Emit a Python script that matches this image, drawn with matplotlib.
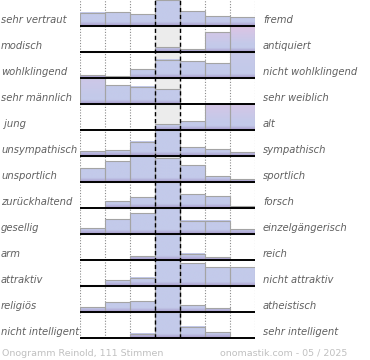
import numpy as np
import matplotlib
matplotlib.use("Agg")
import matplotlib.pyplot as plt
import matplotlib.transforms as mtransforms

# word pairs (left / right)
left_labels = ["sehr vertraut", "modisch", "wohlklingend", "sehr männlich", " jung",
               "unsympathisch", "unsportlich", "zurückhaltend", "gesellig", "arm",
               "attraktiv", "religiös", "nicht intelligent"]
right_labels = ["fremd", "antiquiert", "nicht wohlklingend", "sehr weiblich", "alt",
                "sympathisch", "sportlich", "forsch", "einzelgängerisch", "reich",
                "nicht attraktiv", "atheistisch", "sehr intelligent"]

# estimated votes per scale step (7 steps, 111 votes)
votes_vertraut = [15, 16, 13, 29, 17, 11, 10]
votes_modisch = [2, 0, 0, 9, 6, 41, 53]
votes_wohlklingend = [3, 2, 11, 23, 21, 19, 32]
votes_maennlich = [37, 27, 25, 22, 0, 0, 0]
votes_jung = [0, 0, 0, 10, 15, 43, 43]
votes_sympathisch = [7, 9, 23, 41, 14, 11, 6]
votes_sportlich = [14, 21, 26, 24, 17, 6, 3]
votes_forsch = [0, 11, 17, 40, 22, 18, 3]
votes_gesellig = [6, 17, 24, 29, 15, 15, 5]
votes_arm = [0, 0, 10, 75, 18, 8, 0]
votes_attraktiv = [1, 6, 9, 28, 25, 21, 21]
votes_religioes = [9, 17, 20, 46, 12, 7, 0]
votes_intelligent = [0, 0, 10, 61, 27, 13, 0]

rows = [votes_vertraut, votes_modisch, votes_wohlklingend, votes_maennlich, votes_jung,
        votes_sympathisch, votes_sportlich, votes_forsch, votes_gesellig, votes_arm,
        votes_attraktiv, votes_religioes, votes_intelligent]

footer_left = "Onogramm Reinold, 111 Stimmen"
footer_right = "onomastik.com - 05 / 2025"

purple = np.array([166, 152, 201]) / 255
blue = np.array([195, 202, 234]) / 255
pink = np.array([221, 196, 228]) / 255

fig = plt.figure(figsize=(3.7, 3.6), dpi=100)
ax = fig.add_axes([80 / 370, 22.3 / 360, 175 / 370, 338 / 360])
n_rows = len(rows)

# light gray background in the middle column
ax.axvspan(3, 4, color="#ececec", zorder=0)

for i, counts in enumerate(rows):
    base = i + 1
    top = max(counts)
    for j, c in enumerate(counts):
        if c == 0:
            continue
        h = c / top * 0.97
        t = np.linspace(0, 1, 64)
        y = t * h
        a = np.clip(y / 0.16, 0, 1)[:, None]
        col = purple * (1 - a) + blue * a
        p = 0 if j == 3 else np.clip((c - 28) / 22, 0, 1)
        if p > 0:
            b = (np.clip((t - 0.3) / 0.7, 0, 1) * p)[:, None]
            col = col * (1 - b) + pink * b
        ax.imshow(col[:, None, :], extent=(j, j + 1, base, base - h), origin="lower",
                  aspect="auto", interpolation="bilinear", zorder=2)
        ax.bar(j + 0.5, -h, bottom=base, width=1, fill=False, edgecolor="#a4a4a4",
               linewidth=0.8, zorder=3)
    ax.hlines(base, 0, 7, color="black", linewidth=1.4, zorder=4, clip_on=False)

for x in [0, 1, 2, 5, 6, 7]:
    ax.axvline(x, color="#8a8a8a", linestyle=(0, (1, 1.5)), linewidth=0.8, zorder=1)
for x in [3, 4]:
    ax.axvline(x, color="black", linestyle=(0, (3, 2)), linewidth=1.0, zorder=5)

ax.set_xlim(0, 7)
ax.set_ylim(n_rows, 0)
ax.set_axis_off()

trans = mtransforms.blended_transform_factory(fig.transFigure, ax.transData)
for i in range(n_rows):
    fig.text(1 / 370, i + 0.9, left_labels[i], transform=trans, ha="left", va="baseline",
             fontsize=7.2, style="italic", color="#606060")
    fig.text(263 / 370, i + 0.9, right_labels[i], transform=trans, ha="left", va="baseline",
             fontsize=7.2, style="italic", color="#606060")

fig.text(2 / 370, 1 - 355.5 / 360, footer_left, ha="left", va="baseline", fontsize=6.8, color="#c0c0c0")
fig.text(347 / 370, 1 - 355.5 / 360, footer_right, ha="right", va="baseline", fontsize=6.8, color="#c0c0c0")

fig.savefig("out.png", dpi=100)
